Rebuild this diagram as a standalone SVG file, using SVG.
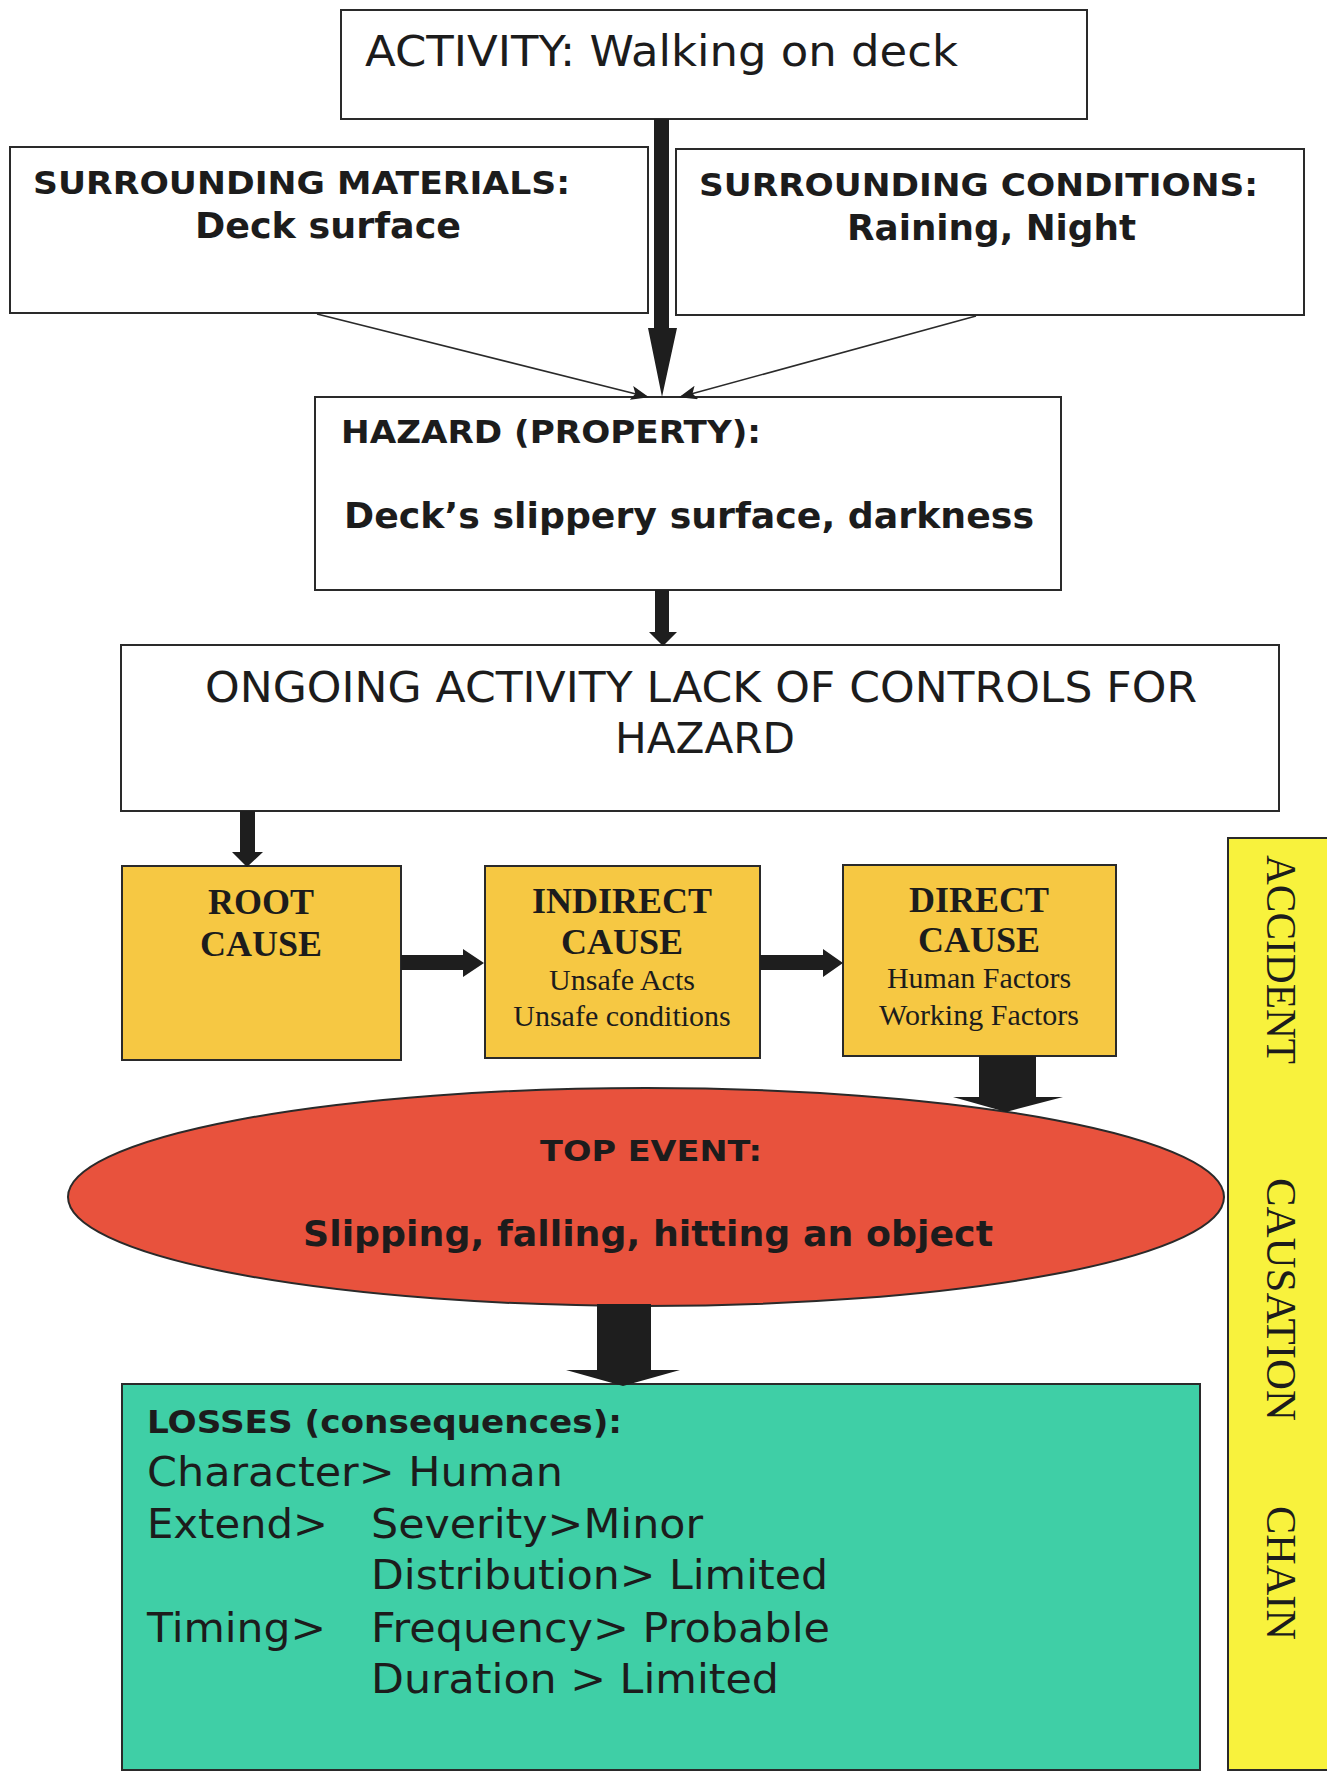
<svg xmlns="http://www.w3.org/2000/svg" width="1327" height="1776" viewBox="0 0 1327 1776">
  <defs>
    <style>
      .box { fill: #ffffff; stroke: #2a2a2a; stroke-width: 2; }
      .cause { fill: #f6c843; stroke: #2a2a2a; stroke-width: 2; }
      .sans { font-family: "DejaVu Sans", Verdana, sans-serif; fill: #1c1c1c; }
      .bold { font-weight: bold; }
      .serif { font-family: "Liberation Serif", "Times New Roman", serif; fill: #1c1c1c; }
      .mid { text-anchor: middle; }
      .thin { stroke: #2a2a2a; stroke-width: 1.6; fill: none; }
      .solid { fill: #1e1e1e; stroke: none; }
    </style>
    <marker id="tip" viewBox="0 0 18 14" refX="17" refY="7" markerWidth="18" markerHeight="14" markerUnits="userSpaceOnUse" orient="auto">
      <path d="M0,0 L18,7 L0,14 L4,7 Z" fill="#1e1e1e"/>
    </marker>
  </defs>

  <rect width="1327" height="1776" fill="#ffffff"/>

  <!-- activity -->
  <g id="activity">
    <rect class="box" x="341" y="10" width="746" height="109"/>
    <text class="sans" x="365" y="66" font-size="42" textLength="593" lengthAdjust="spacingAndGlyphs">ACTIVITY: Walking on deck</text>
  </g>

  <!-- surrounding materials -->
  <g id="materials">
    <rect class="box" x="10" y="147" width="638" height="166"/>
    <text class="sans bold" x="33" y="194" font-size="32" textLength="537" lengthAdjust="spacingAndGlyphs">SURROUNDING MATERIALS:</text>
    <text class="sans bold" x="195" y="238" font-size="35" textLength="266" lengthAdjust="spacingAndGlyphs">Deck surface</text>
  </g>

  <!-- surrounding conditions -->
  <g id="conditions">
    <rect class="box" x="676" y="149" width="628" height="166"/>
    <text class="sans bold" x="699" y="196" font-size="32" textLength="559" lengthAdjust="spacingAndGlyphs">SURROUNDING CONDITIONS:</text>
    <text class="sans bold" x="847" y="240" font-size="35" textLength="289" lengthAdjust="spacingAndGlyphs">Raining, Night</text>
  </g>

  <!-- hazard -->
  <g id="hazard">
    <rect class="box" x="315" y="397" width="746" height="193"/>
    <text class="sans bold" x="341" y="443" font-size="32" textLength="420" lengthAdjust="spacingAndGlyphs">HAZARD (PROPERTY):</text>
    <text class="sans bold" x="344" y="528" font-size="36" textLength="690" lengthAdjust="spacingAndGlyphs">Deck’s slippery surface, darkness</text>
  </g>

  <!-- ongoing activity -->
  <g id="ongoing">
    <rect class="box" x="121" y="645" width="1158" height="166"/>
    <text class="sans" x="205" y="702" font-size="42" textLength="992" lengthAdjust="spacingAndGlyphs">ONGOING ACTIVITY LACK OF CONTROLS FOR</text>
    <text class="sans" x="615" y="753" font-size="42" textLength="180" lengthAdjust="spacingAndGlyphs">HAZARD</text>
  </g>

  <!-- root cause -->
  <g id="root">
    <rect class="cause" x="122" y="866" width="279" height="194"/>
    <text class="serif bold mid" x="261" y="914" font-size="36">ROOT</text>
    <text class="serif bold mid" x="261" y="956" font-size="36">CAUSE</text>
  </g>

  <!-- indirect cause -->
  <g id="indirect">
    <rect class="cause" x="485" y="866" width="275" height="192"/>
    <text class="serif bold mid" x="622" y="913" font-size="36">INDIRECT</text>
    <text class="serif bold mid" x="622" y="954" font-size="36">CAUSE</text>
    <text class="serif mid" x="622" y="990" font-size="30">Unsafe Acts</text>
    <text class="serif mid" x="622" y="1026" font-size="30">Unsafe conditions</text>
  </g>

  <!-- direct cause -->
  <g id="direct">
    <rect class="cause" x="843" y="865" width="273" height="191"/>
    <text class="serif bold mid" x="979" y="912" font-size="36">DIRECT</text>
    <text class="serif bold mid" x="979" y="952" font-size="36">CAUSE</text>
    <text class="serif mid" x="979" y="988" font-size="30">Human Factors</text>
    <text class="serif mid" x="979" y="1025" font-size="30">Working Factors</text>
  </g>

  <!-- accident causation chain bar -->
  <g id="chain">
    <rect x="1228" y="838" width="104" height="932" fill="#f8f23d" stroke="#2a2a2a" stroke-width="2"/>
    <text class="serif" transform="translate(1267,855) rotate(90)" font-size="42" textLength="209" lengthAdjust="spacingAndGlyphs">ACCIDENT</text>
    <text class="serif" transform="translate(1267,1178) rotate(90)" font-size="42" textLength="243" lengthAdjust="spacingAndGlyphs">CAUSATION</text>
    <text class="serif" transform="translate(1267,1506) rotate(90)" font-size="42" textLength="134" lengthAdjust="spacingAndGlyphs">CHAIN</text>
  </g>

  <!-- top event -->
  <g id="top-event">
    <ellipse cx="646" cy="1197" rx="578" ry="109" fill="#e8523d" stroke="#2a2a2a" stroke-width="2"/>
    <text class="sans bold" x="540" y="1161" font-size="29" textLength="222" lengthAdjust="spacingAndGlyphs">TOP EVENT:</text>
    <text class="sans bold" x="303" y="1246" font-size="35" textLength="690" lengthAdjust="spacingAndGlyphs">Slipping, falling, hitting an object</text>
  </g>

  <!-- losses -->
  <g id="losses">
    <rect x="122" y="1384" width="1078" height="386" fill="#3fcfa6" stroke="#2a2a2a" stroke-width="2"/>
    <text class="sans bold" x="147" y="1433" font-size="32" textLength="475" lengthAdjust="spacingAndGlyphs">LOSSES (consequences):</text>
    <text class="sans" x="147" y="1486" font-size="40" textLength="416" lengthAdjust="spacingAndGlyphs">Character&gt; Human</text>
    <text class="sans" x="147" y="1538" font-size="40" textLength="181" lengthAdjust="spacingAndGlyphs">Extend&gt;</text>
    <text class="sans" x="371" y="1538" font-size="40" textLength="332" lengthAdjust="spacingAndGlyphs">Severity&gt;Minor</text>
    <text class="sans" x="371" y="1589" font-size="40" textLength="457" lengthAdjust="spacingAndGlyphs">Distribution&gt; Limited</text>
    <text class="sans" x="147" y="1642" font-size="40" textLength="179" lengthAdjust="spacingAndGlyphs">Timing&gt;</text>
    <text class="sans" x="371" y="1642" font-size="40" textLength="459" lengthAdjust="spacingAndGlyphs">Frequency&gt; Probable</text>
    <text class="sans" x="371" y="1693" font-size="40" textLength="408" lengthAdjust="spacingAndGlyphs">Duration &gt; Limited</text>
  </g>

  <!-- connectors -->
  <g id="connectors">
    <!-- activity to hazard: long narrow arrow -->
    <path class="solid" d="M654,119 L669,119 L669,328 L677,328 L662,397 L648,328 L654,328 Z"/>
    <!-- materials / conditions to hazard -->
    <line class="thin" x1="317" y1="314" x2="648" y2="397" marker-end="url(#tip)"/>
    <line class="thin" x1="976" y1="316" x2="680" y2="397" marker-end="url(#tip)"/>
    <!-- hazard to ongoing -->
    <path class="solid" d="M655,590 L669,590 L669,632 L677,632 L663,646 L649,632 L655,632 Z"/>
    <!-- ongoing to root -->
    <path class="solid" d="M240,811 L255,811 L255,852 L263,852 L247,867 L232,852 L240,852 Z"/>
    <!-- root to indirect -->
    <path class="solid" d="M401,955 L463,955 L463,949 L484,963 L463,977 L463,970 L401,970 Z"/>
    <!-- indirect to direct -->
    <path class="solid" d="M760,955 L823,955 L823,949 L843,963 L823,977 L823,970 L760,970 Z"/>
    <!-- direct to top event -->
    <path class="solid" d="M979,1056 L1036,1056 L1036,1097 L1063,1097 L1006,1112 L953,1097 L979,1097 Z"/>
    <!-- top event to losses -->
    <path class="solid" d="M597,1304 L651,1304 L651,1370 L680,1370 L623,1386 L566,1370 L597,1370 Z"/>
  </g>
</svg>
